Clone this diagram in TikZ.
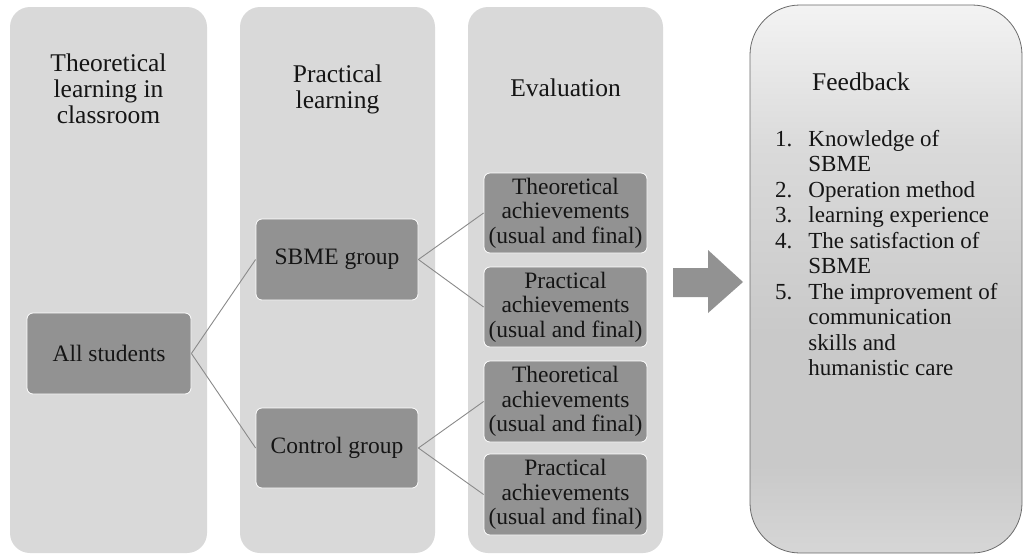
\documentclass[tikz,border=0pt]{standalone}
\usepackage{fontspec}
\setmainfont{Liberation Serif}
\usetikzlibrary{shadings}
\definecolor{colbg}{HTML}{D9D9D9}
\definecolor{boxbg}{HTML}{929292}
\definecolor{linkc}{HTML}{8A8A8A}
\definecolor{txt}{HTML}{151515}
\definecolor{fbT}{HTML}{F3F3F3}
\definecolor{fbM}{HTML}{DADADA}
\definecolor{fbD}{HTML}{C9C9C9}
\definecolor{fbB}{HTML}{D6D6D6}
\definecolor{fbedge}{HTML}{6A6A6A}
\pgfdeclareverticalshading{fbshade}{100bp}{color(0bp)=(fbB); color(25bp)=(fbB); color(33bp)=(fbD); color(45bp)=(fbD); color(62bp)=(fbM); color(75bp)=(fbT); color(100bp)=(fbT)}
\tikzset{
  column/.style={fill=colbg, draw=none, rounded corners=20pt, minimum width=195pt, minimum height=546pt, inner sep=0pt},
  item/.style={fill=boxbg, draw=white, line width=0.8pt, rounded corners=6pt, minimum height=80pt, inner sep=0pt, align=center, text=txt, font=\fontsize{23.5}{24.5}\selectfont},
  head/.style={align=center, text=txt, font=\fontsize{25.5}{26}\selectfont, inner sep=0pt},
  link/.style={draw=linkc, line width=0.9pt},
  bigarrow/.style={fill=boxbg, draw=none}
}
\begin{document}
\begin{tikzpicture}[x=1pt,y=-1pt]
\useasboundingbox (0,0) rectangle (1025,555);
% columns
\node[column, minimum width=197pt] (c1) at (108.5,280) {};
\node[column] (c2) at (337.5,280) {};
\node[column] (c3) at (565.5,280) {};
% headers
\node[head] (h1) at (108.5,89) {Theoretical\\learning in\\classroom};
\node[head] (h2) at (337.5,89.5) {Practical\\learning};
\node[head] (h3) at (565.5,88) {Evaluation};
% boxes
\node[item, minimum width=164pt, minimum height=81pt] (all) at (109,353.5) {All students};
\node[item, minimum width=162pt, minimum height=81pt] (sbme) at (337,259.5) {SBME group};
\node[item, minimum width=162pt] (ctrl) at (337,448) {Control group};
\node[item, minimum width=163pt] (e1) at (565.5,213) {Theoretical\\achievements\\(usual and final)};
\node[item, minimum width=163pt] (e2) at (565.5,307) {Practical\\achievements\\(usual and final)};
\node[item, minimum width=163pt, minimum height=81pt] (e3) at (565.5,401.5) {Theoretical\\achievements\\(usual and final)};
\node[item, minimum width=163pt, minimum height=81pt] (e4) at (565.5,494.5) {Practical\\achievements\\(usual and final)};
% links
\draw[link] (all.east) -- (sbme.west);
\draw[link] (all.east) -- (ctrl.west);
\draw[link] (sbme.east) -- (e1.west);
\draw[link] (sbme.east) -- (e2.west);
\draw[link] (ctrl.east) -- (e3.west);
\draw[link] (ctrl.east) -- (e4.west);
% big arrow
\fill[bigarrow] (673,268) -- (708,268) -- (708,250) -- (743,282) -- (708,313) -- (708,297) -- (673,297) -- cycle;
% feedback
\node[draw=fbedge, line width=0.8pt, rounded corners=50pt, shading=fbshade, minimum width=272pt, minimum height=548pt, inner sep=0pt] (fb) at (886,279) {};
\node[head, anchor=west] (fbt) at (812,82) {Feedback};
\node[anchor=base west, inner sep=0pt, text=txt, font=\fontsize{23}{25.5}\selectfont] (fbl) at (775,146)
{\begin{tabular}[t]{@{}l@{\hspace{16pt}}l@{}}
1. & Knowledge of\\
   & SBME\\
2. & Operation method\\
3. & learning experience\\
4. & The satisfaction of\\
   & SBME\\
5. & The improvement of\\
   & communication\\
   & skills and\\
   & humanistic care
\end{tabular}};
\end{tikzpicture}
\end{document}
